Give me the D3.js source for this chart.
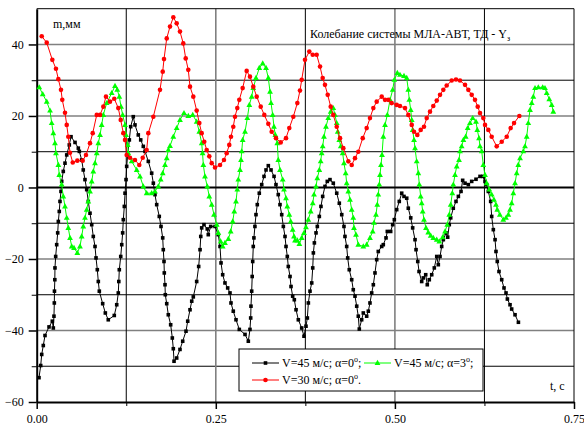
<!DOCTYPE html>
<html>
<head>
<meta charset="utf-8">
<script src="https://cdn.jsdelivr.net/npm/d3@7"></script>
<style>
body { margin: 0; background: #fff; }
</style>
</head>
<body>
<div id="chart"></div>
<script>
// V=45 м/с; α=0° (чёрные квадраты)
const blackT = [0.0032,0.0056,0.0070,0.0092,0.0116,0.0172,0.0218,0.0232,0.0241,0.0246,0.0248,0.0253,0.0255,0.0265,0.0279,0.0293,0.0302,0.0315,0.0325,0.0339,0.0349,0.0371,0.0395,0.0419,0.0455,0.0479,0.0535,0.0581,0.0595,0.0628,0.0650,0.0674,0.0698,0.0720,0.0744,0.0768,0.0790,0.0814,0.0828,0.0846,0.0860,0.0874,0.0921,0.0958,0.0999,0.1083,0.1117,0.1139,0.1146,0.1153,0.1173,0.1187,0.1200,0.1209,0.1223,0.1233,0.1247,0.1256,0.1270,0.1293,0.1312,0.1348,0.1372,0.1418,0.1452,0.1488,0.1512,0.1558,0.1605,0.1628,0.1651,0.1675,0.1711,0.1735,0.1759,0.1767,0.1777,0.1781,0.1791,0.1795,0.1815,0.1837,0.1870,0.1893,0.1907,0.1917,0.1954,0.2000,0.2038,0.2084,0.2108,0.2140,0.2164,0.2186,0.2233,0.2261,0.2280,0.2290,0.2303,0.2335,0.2381,0.2395,0.2429,0.2489,0.2535,0.2559,0.2573,0.2596,0.2628,0.2666,0.2698,0.2712,0.2744,0.2782,0.2828,0.2908,0.2954,0.2977,0.2987,0.2991,0.3001,0.3008,0.3015,0.3023,0.3032,0.3046,0.3061,0.3079,0.3107,0.3141,0.3173,0.3201,0.3233,0.3271,0.3313,0.3340,0.3372,0.3396,0.3420,0.3443,0.3466,0.3480,0.3498,0.3512,0.3536,0.3550,0.3573,0.3596,0.3620,0.3652,0.3699,0.3731,0.3759,0.3778,0.3792,0.3815,0.3839,0.3853,0.3862,0.3876,0.3899,0.3917,0.3945,0.3968,0.3992,0.4024,0.4056,0.4094,0.4140,0.4188,0.4224,0.4258,0.4289,0.4303,0.4327,0.4341,0.4363,0.4397,0.4419,0.4443,0.4467,0.4489,0.4503,0.4536,0.4559,0.4606,0.4629,0.4652,0.4676,0.4699,0.4722,0.4746,0.4768,0.4816,0.4838,0.4876,0.4894,0.4941,0.4969,0.4992,0.5025,0.5061,0.5095,0.5127,0.5165,0.5187,0.5221,0.5248,0.5281,0.5295,0.5319,0.5337,0.5374,0.5397,0.5430,0.5452,0.5480,0.5514,0.5550,0.5584,0.5606,0.5630,0.5653,0.5676,0.5713,0.5737,0.5759,0.5779,0.5815,0.5853,0.5886,0.5923,0.5946,0.5979,0.6025,0.6072,0.6132,0.6188,0.6226,0.6258,0.6281,0.6304,0.6337,0.6351,0.6374,0.6398,0.6411,0.6429,0.6453,0.6491,0.6523,0.6551,0.6570,0.6607,0.6630,0.6677,0.6724];
const blackV = [-53.2,-49.8,-46.7,-44.2,-41.4,-39.0,-37.4,-39.3,-36.0,-32.3,-29.0,-25.8,-22.5,-19.3,-16.0,-12.7,-9.5,-6.7,-3.9,-1.1,1.7,4.5,6.8,9.1,11.9,14.2,12.6,11.0,10.1,7.7,4.9,2.2,-0.6,-3.9,-7.2,-10.4,-13.7,-16.5,-19.7,-23.0,-26.3,-29.0,-32.5,-35.1,-37.0,-35.8,-32.8,-29.5,-26.3,-23.0,-19.3,-16.0,-12.7,-9.0,-5.3,-1.6,2.2,5.9,9.1,13.3,17.0,19.8,17.5,14.7,13.3,11.5,10.1,7.3,4.0,1.2,-2.0,-4.8,-8.1,-10.9,-14.1,-17.4,-20.7,-23.9,-27.2,-30.0,-32.5,-35.6,-38.4,-42.1,-45.1,-48.6,-47.7,-45.3,-43.0,-40.2,-37.4,-34.2,-31.8,-30.6,-26.3,-22.1,-17.4,-13.7,-11.3,-10.4,-11.6,-13.2,-10.9,-10.9,-13.2,-16.5,-21.1,-24.4,-26.7,-28.1,-29.5,-32.3,-34.6,-37.0,-39.7,-41.1,-43.0,-39.7,-36.5,-33.2,-29.0,-24.9,-20.7,-16.5,-14.1,-10.9,-7.6,-4.8,-1.6,0.8,3.1,4.9,6.1,4.9,3.1,0.8,-2.0,-4.8,-7.6,-10.9,-13.7,-16.5,-19.3,-22.1,-24.9,-27.7,-30.4,-31.4,-34.2,-37.0,-39.3,-41.6,-38.8,-36.5,-32.3,-29.0,-26.7,-22.5,-18.3,-15.5,-12.7,-10.9,-8.1,-5.3,-2.5,0.3,1.7,2.2,1.2,-1.6,-4.4,-7.6,-10.9,-13.7,-16.5,-19.7,-23.0,-25.8,-28.6,-30.4,-33.2,-36.0,-39.6,-37.0,-35.1,-36.0,-34.6,-32.3,-29.5,-27.2,-23.9,-20.2,-17.9,-16.5,-16.0,-14.1,-12.3,-12.3,-10.4,-9.0,-6.2,-3.9,-1.6,-2.5,-3.0,-5.8,-8.5,-11.3,-14.6,-17.4,-20.7,-23.5,-26.3,-25.3,-24.4,-27.2,-25.8,-24.4,-22.5,-19.3,-21.6,-19.3,-16.5,-14.6,-12.7,-13.9,-10.4,-8.5,-5.8,-3.9,-2.5,-1.1,2.0,1.2,0.8,1.7,2.3,3.1,3.1,1.7,0.8,-1.1,-3.9,-8.1,-11.8,-14.6,-17.9,-20.7,-23.5,-25.8,-28.1,-29.5,-31.2,-32.8,-34.0,-35.6,-37.7];

// V=45 м/с; α=3° (зелёные треугольники)
const greenT = [0.0036,0.0084,0.0140,0.0186,0.0209,0.0232,0.0255,0.0269,0.0302,0.0315,0.0349,0.0371,0.0395,0.0419,0.0441,0.0465,0.0489,0.0521,0.0567,0.0604,0.0628,0.0650,0.0674,0.0698,0.0720,0.0744,0.0768,0.0790,0.0814,0.0838,0.0860,0.0884,0.0907,0.0930,0.0977,0.1047,0.1093,0.1125,0.1153,0.1177,0.1200,0.1233,0.1247,0.1270,0.1279,0.1326,0.1396,0.1442,0.1488,0.1535,0.1605,0.1651,0.1697,0.1731,0.1759,0.1791,0.1815,0.1837,0.1861,0.1907,0.1954,0.2000,0.2056,0.2116,0.2178,0.2233,0.2270,0.2303,0.2315,0.2326,0.2349,0.2381,0.2409,0.2443,0.2475,0.2513,0.2535,0.2568,0.2596,0.2628,0.2675,0.2708,0.2736,0.2758,0.2782,0.2800,0.2814,0.2838,0.2852,0.2862,0.2875,0.2908,0.2940,0.2968,0.3001,0.3023,0.3061,0.3107,0.3155,0.3201,0.3233,0.3257,0.3271,0.3294,0.3312,0.3331,0.3358,0.3372,0.3396,0.3434,0.3452,0.3480,0.3498,0.3526,0.3546,0.3573,0.3592,0.3606,0.3638,0.3666,0.3699,0.3731,0.3759,0.3791,0.3825,0.3853,0.3871,0.3899,0.3917,0.3945,0.3964,0.3978,0.3992,0.4010,0.4038,0.4070,0.4104,0.4140,0.4164,0.4188,0.4202,0.4224,0.4244,0.4271,0.4289,0.4313,0.4327,0.4350,0.4373,0.4397,0.4419,0.4429,0.4457,0.4489,0.4559,0.4606,0.4652,0.4690,0.4708,0.4736,0.4754,0.4768,0.4782,0.4792,0.4806,0.4820,0.4838,0.4862,0.4894,0.4932,0.4969,0.4992,0.5034,0.5071,0.5127,0.5165,0.5187,0.5201,0.5221,0.5235,0.5248,0.5267,0.5281,0.5304,0.5327,0.5341,0.5360,0.5374,0.5388,0.5406,0.5434,0.5466,0.5500,0.5536,0.5584,0.5620,0.5667,0.5700,0.5731,0.5759,0.5779,0.5801,0.5815,0.5839,0.5863,0.5895,0.5909,0.5932,0.5956,0.5988,0.6016,0.6048,0.6086,0.6132,0.6150,0.6174,0.6188,0.6212,0.6234,0.6258,0.6281,0.6318,0.6351,0.6383,0.6411,0.6429,0.6465,0.6513,0.6551,0.6583,0.6607,0.6630,0.6653,0.6677,0.6700,0.6722,0.6747,0.6792,0.6816,0.6840,0.6862,0.6886,0.6910,0.6932,0.6956,0.7002,0.7063,0.7095,0.7119,0.7155,0.7189,0.7211];
const greenV = [28.0,26.1,24.0,21.5,18.0,15.2,12.4,9.6,6.3,3.5,0.8,-2.5,-5.3,-8.5,-11.3,-14.1,-16.5,-16.9,-18.3,-16.5,-13.7,-10.9,-8.5,-6.2,-3.9,-1.1,1.7,4.5,6.8,9.6,12.4,14.7,17.5,20.3,23.6,26.4,28.4,27.3,25.4,22.6,20.3,17.5,14.7,11.9,9.6,7.3,4.9,3.1,0.3,-1.6,-1.6,-1.1,0.3,2.2,4.0,6.3,8.2,10.5,11.6,14.2,16.6,18.9,20.8,20.0,20.3,18.4,15.6,12.4,9.6,6.3,3.1,0.3,-2.5,-4.8,-7.6,-10.4,-12.7,-15.1,-16.5,-15.5,-14.4,-12.3,-9.5,-6.7,-3.9,-0.6,2.2,4.9,7.7,10.1,13.3,15.6,19.4,23.1,25.4,27.8,30.6,33.4,34.7,33.4,30.6,26.8,23.6,20.3,17.0,14.7,12.4,7.7,4.9,2.2,-0.6,-3.0,-5.3,-7.6,-9.5,-11.8,-13.7,-14.8,-14.8,-15.8,-14.1,-12.7,-11.1,-9.0,-6.7,-4.4,-2.0,0.3,2.6,4.9,7.3,9.6,11.5,14.2,17.0,19.4,21.2,22.2,20.3,18.0,15.6,13.3,11.5,9.6,6.8,4.0,1.2,-1.1,-3.4,-6.2,-8.5,-11.3,-13.2,-16.0,-16.5,-16.0,-14.1,-12.3,-9.9,-7.6,-4.8,-2.0,0.8,3.5,6.3,9.1,14.2,17.5,20.3,24.5,27.3,30.1,32.0,31.5,31.2,30.6,27.3,24.5,21.7,18.9,16.1,13.3,11.0,7.3,4.0,0.8,-2.5,-4.4,-6.7,-9.0,-11.3,-12.6,-13.5,-14.1,-14.6,-15.1,-13.9,-12.3,-10.4,-7.6,-4.8,-1.6,0.8,3.5,5.9,7.7,10.1,11.5,13.3,14.2,16.6,18.0,19.4,18.4,16.1,13.8,11.5,10.1,6.3,3.5,1.2,-0.6,-2.0,-3.4,-4.8,-6.2,-7.6,-9.0,-8.5,-7.6,-6.2,-4.4,-1.6,1.2,4.0,6.3,8.2,10.1,11.5,14.2,18.0,21.7,23.6,25.4,27.8,28.0,28.0,27.8,26.4,24.7,23.1,21.2];

// V=30 м/с; α=0° (красные кружки)
const redT = [0.0070,0.0140,0.0218,0.0269,0.0302,0.0339,0.0357,0.0395,0.0419,0.0441,0.0465,0.0503,0.0567,0.0642,0.0688,0.0744,0.0782,0.0838,0.0884,0.0930,0.0967,0.1023,0.1083,0.1139,0.1173,0.1209,0.1233,0.1256,0.1302,0.1372,0.1432,0.1480,0.1535,0.1558,0.1628,0.1721,0.1759,0.1777,0.1815,0.1861,0.1907,0.1954,0.2000,0.2046,0.2080,0.2116,0.2140,0.2186,0.2233,0.2270,0.2303,0.2339,0.2373,0.2409,0.2443,0.2489,0.2559,0.2614,0.2652,0.2688,0.2712,0.2744,0.2768,0.2800,0.2828,0.2875,0.2931,0.2977,0.3023,0.3071,0.3127,0.3177,0.3233,0.3280,0.3340,0.3406,0.3480,0.3526,0.3582,0.3638,0.3675,0.3699,0.3745,0.3805,0.3853,0.3908,0.3955,0.3992,0.4024,0.4062,0.4104,0.4140,0.4188,0.4234,0.4280,0.4350,0.4397,0.4443,0.4489,0.4551,0.4606,0.4652,0.4699,0.4746,0.4816,0.4862,0.4908,0.4955,0.5025,0.5071,0.5141,0.5187,0.5235,0.5267,0.5313,0.5360,0.5406,0.5444,0.5490,0.5536,0.5584,0.5630,0.5676,0.5723,0.5793,0.5853,0.5909,0.5979,0.6025,0.6072,0.6118,0.6156,0.6188,0.6234,0.6258,0.6304,0.6351,0.6421,0.6491,0.6561,0.6616,0.6663,0.6737];
const redV = [42.3,40.5,35.7,33.2,30.3,27.3,24.5,20.9,17.5,14.2,9.7,7.0,7.5,7.5,9.1,12.4,15.2,20.3,20.3,22.6,25.4,24.0,24.8,22.2,18.9,15.2,13.3,9.1,8.3,7.7,6.3,8.3,10.5,15.2,19.8,27.3,32.4,35.9,41.7,45.0,47.6,45.9,43.6,40.3,36.1,32.9,28.2,25.4,21.5,18.0,15.2,12.8,10.5,8.7,6.8,5.6,6.3,7.7,9.6,11.9,14.2,17.0,19.8,22.2,24.5,27.8,32.6,31.0,28.2,25.4,22.6,20.3,17.8,15.6,13.8,12.6,13.8,16.6,19.8,23.6,27.1,30.1,35.7,38.0,37.1,37.1,33.8,30.6,28.7,25.9,22.6,20.3,17.0,13.8,11.0,7.3,6.3,8.2,10.0,13.8,16.6,19.4,22.2,24.0,25.4,24.5,24.5,23.6,23.1,22.8,22.2,20.3,17.5,15.6,14.7,16.1,17.0,19.4,21.2,22.8,24.3,25.9,27.3,28.5,29.9,30.2,29.9,28.7,27.3,25.9,24.5,22.6,20.8,19.4,17.5,16.1,14.2,11.5,12.8,14.2,16.6,18.0,20.0];

const xTicks = [0, 0.25, 0.5, 0.75];
const xTickLabels = ["0.00", "0.25", "0.50", "0.75"];
const yTicks = [40, 20, 0, -20, -40, -60];
const legendLabels = ["V=45 м/с; α=0", "V=45 м/с; α=3", "V=30 м/с; α=0"];
const legendEnds = [";", ";", "."];

const w = 584, h = 428;
const serif = '"Liberation Serif", "Times New Roman", serif';

const x = d3.scaleLinear().domain([0, 0.75]).range([36.7, 574]);
const y = d3.scaleLinear().domain([-60, 50]).range([402, 8.7]);

const svg = d3.select("#chart").append("svg")
    .attr("width", w)
    .attr("height", h)
    .style("font-family", serif);

// сетка
const hMinor = [-50, -30, -10, 10, 30];
const hMajor = [-40, -20, 20, 40];
const vMinor = [0.125, 0.375, 0.625];
const vMajor = [0.25, 0.5];

svg.selectAll(".hmin").data(hMinor).enter().append("line")
    .attr("x1", x(0)).attr("x2", x(0.75))
    .attr("y1", d => y(d)).attr("y2", d => y(d))
    .attr("stroke", "#000").attr("stroke-width", 1);
svg.selectAll(".hmaj").data(hMajor).enter().append("line")
    .attr("x1", x(0)).attr("x2", x(0.75))
    .attr("y1", d => y(d)).attr("y2", d => y(d))
    .attr("stroke", "#808080").attr("stroke-width", 1.6);
svg.selectAll(".vmin").data(vMinor).enter().append("line")
    .attr("y1", y(-60)).attr("y2", y(50))
    .attr("x1", d => x(d)).attr("x2", d => x(d))
    .attr("stroke", "#000").attr("stroke-width", 1);
svg.selectAll(".vmaj").data(vMajor).enter().append("line")
    .attr("y1", y(-60)).attr("y2", y(50))
    .attr("x1", d => x(d)).attr("x2", d => x(d))
    .attr("stroke", "#808080").attr("stroke-width", 1.6);

// нулевая линия и рамка
svg.append("line").attr("x1", x(0)).attr("x2", x(0.75)).attr("y1", y(0)).attr("y2", y(0))
    .attr("stroke", "#000").attr("stroke-width", 2);
svg.append("line").attr("x1", x(0)).attr("x2", x(0.75)).attr("y1", y(50)).attr("y2", y(50))
    .attr("stroke", "#000").attr("stroke-width", 1);
svg.append("line").attr("x1", x(0.75)).attr("x2", x(0.75)).attr("y1", y(50)).attr("y2", y(-60))
    .attr("stroke", "#000").attr("stroke-width", 1);

// оси
const yAxis = d3.axisLeft(y).tickValues(yTicks).tickSize(8).tickSizeOuter(0).tickFormat(d3.format("d"));
const gy = svg.append("g").attr("transform", `translate(${x(0)},0)`).call(yAxis)
    .attr("font-family", serif).attr("font-size", 12);
gy.select(".domain").attr("stroke-width", 2);
gy.selectAll("line").attr("stroke-width", 1.5);
gy.selectAll("text").attr("x", -13).style("font-family", serif).style("font-size", "12px");
svg.append("g").attr("transform", `translate(${x(0)},0)`)
    .call(d3.axisLeft(y).tickValues(hMinor).tickSize(5).tickSizeOuter(0).tickFormat(""))
    .call(g => g.select(".domain").remove());

const xAxis = d3.axisBottom(x).tickValues(xTicks).tickSize(7).tickSizeOuter(0)
    .tickFormat((d, i) => xTickLabels[i]);
const gx = svg.append("g").attr("transform", `translate(0,${y(-60)})`).call(xAxis)
    .attr("font-family", serif).attr("font-size", 12);
gx.select(".domain").attr("stroke-width", 2);
gx.selectAll("line").attr("stroke-width", 1.5);
gx.selectAll("text").attr("y", 12).style("font-family", serif).style("font-size", "12px");
svg.append("g").attr("transform", `translate(0,${y(-60)})`)
    .call(d3.axisBottom(x).tickValues(vMinor).tickSize(4).tickSizeOuter(0).tickFormat(""))
    .call(g => g.select(".domain").remove());

// подписи
svg.append("text").attr("x", 53).attr("y", 28).style("font-size", "12px").text("m,мм");
svg.append("text").attr("x", 550).attr("y", 390).style("font-size", "12px").text("t, c");
const title = svg.append("text").attr("x", 310).attr("y", 38).style("font-size", "12px");
title.append("tspan").text("Колебание системы МЛА-АВТ, ТД - Y");
title.append("tspan").style("font-size", "8px").attr("dy", 3).text("з");

// серии
const series = [
    { t: blackT, v: blackV, color: "#000000", shape: "square" },
    { t: greenT, v: greenV, color: "#00ff00", shape: "triangle" },
    { t: redT, v: redV, color: "#ff0000", shape: "circle" }
];

function drawMarker(g, shape, color, cx, cy) {
    if (shape === "square") {
        g.append("rect").attr("x", cx - 1.8).attr("y", cy - 1.8).attr("width", 3.6).attr("height", 3.6).attr("fill", color);
    } else if (shape === "circle") {
        g.append("circle").attr("cx", cx).attr("cy", cy).attr("r", 2.3).attr("fill", color);
    } else {
        g.append("path").attr("d", `M${cx},${cy - 3.2}L${cx + 2.9},${cy + 2}L${cx - 2.9},${cy + 2}Z`).attr("fill", color);
    }
}

const line = d3.line().x(d => x(d[0])).y(d => y(d[1]));

series.forEach(s => {
    const pts = s.t.map((t, i) => [t, s.v[i]]);
    svg.append("path").datum(pts)
        .attr("d", line)
        .attr("fill", "none")
        .attr("stroke", s.color)
        .attr("stroke-width", 1);
    const g = svg.append("g");
    pts.forEach(p => drawMarker(g, s.shape, s.color, x(p[0]), y(p[1])));
});

// легенда
const lg = svg.append("g");
lg.append("rect").attr("x", 239).attr("y", 349).attr("width", 244).attr("height", 42)
    .attr("fill", "#fff").attr("stroke", "#000").attr("stroke-width", 1);
const legendPos = [[252, 363], [364, 363], [252, 380]];
series.forEach((s, i) => {
    const [lx, ly] = legendPos[i];
    lg.append("line").attr("x1", lx).attr("x2", lx + 27).attr("y1", ly).attr("y2", ly)
        .attr("stroke", s.color).attr("stroke-width", 1);
    drawMarker(lg, s.shape, s.color, lx + 13.5, ly);
    const tx = lg.append("text").attr("x", lx + 30).attr("y", ly + 4).style("font-size", "12px");
    tx.append("tspan").text(legendLabels[i]);
    tx.append("tspan").style("font-size", "8px").attr("dy", -5).text("o");
    tx.append("tspan").attr("dy", 5).text(legendEnds[i]);
});
</script>
</body>
</html>
